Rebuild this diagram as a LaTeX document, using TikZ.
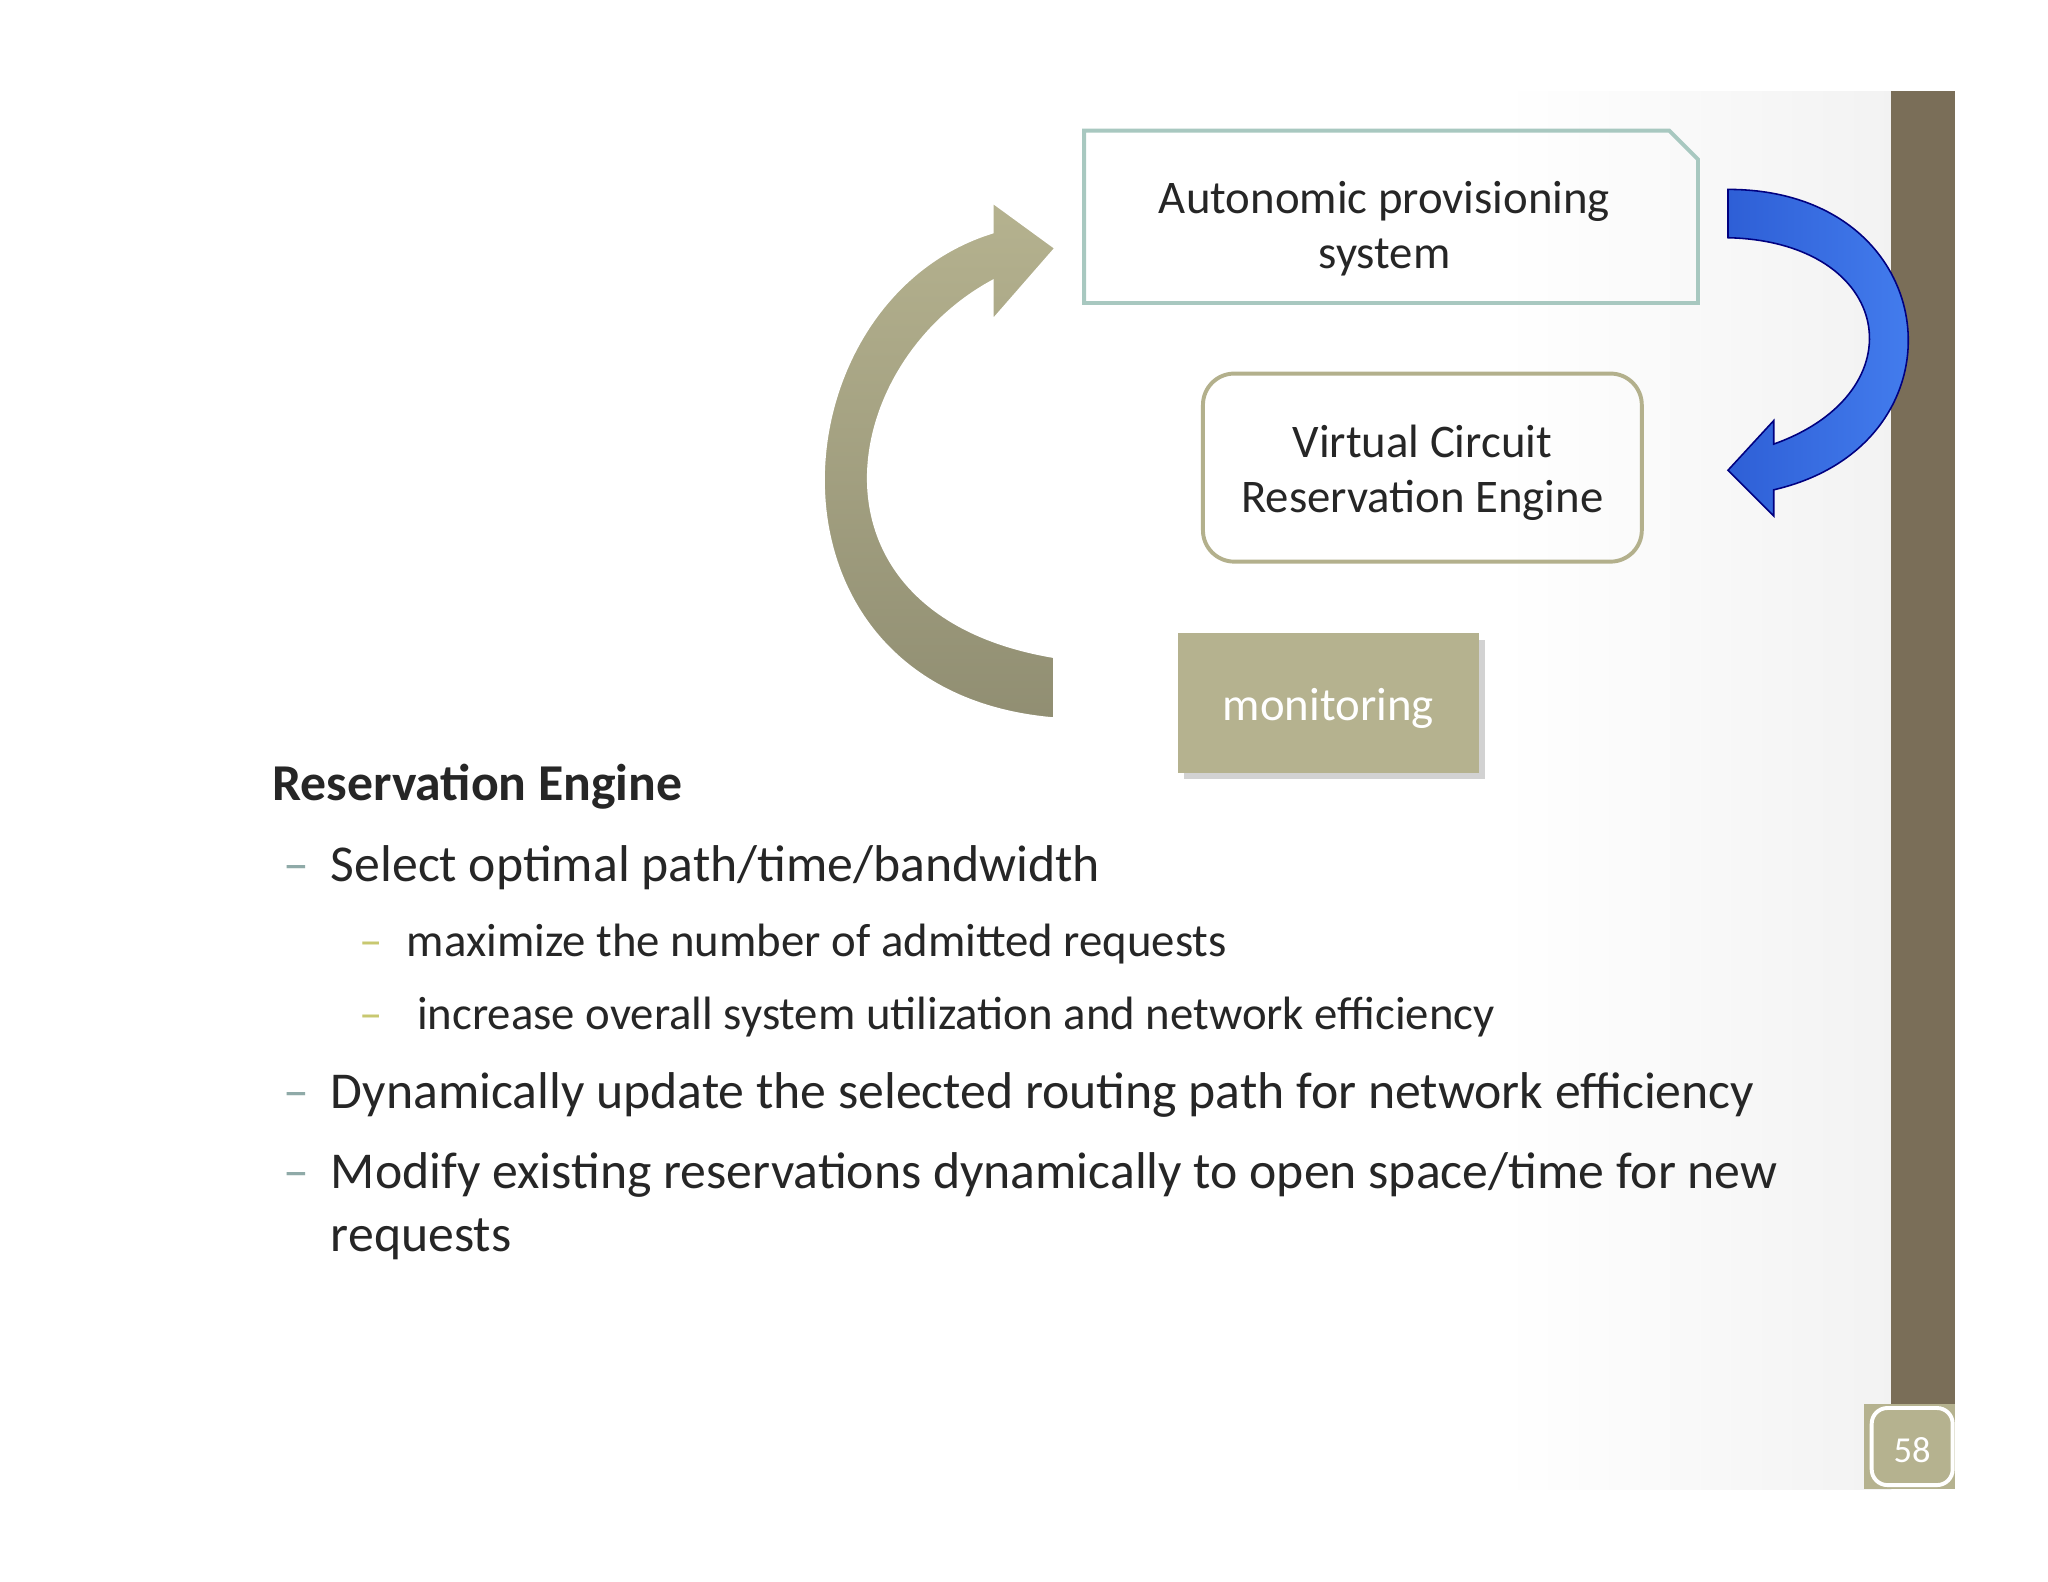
\documentclass[tikz,border=0pt]{standalone}
\usepackage{fontspec}
\setmainfont{Carlito}
\usetikzlibrary{shadows}
\definecolor{tanf}{HTML}{B5B28F}
\definecolor{tanb}{HTML}{B3B08C}
\definecolor{brown}{HTML}{7A6E58}
\definecolor{teal}{HTML}{A8C8C0}
\definecolor{txt}{HTML}{262626}
\definecolor{dash1}{HTML}{8FAAA8}
\definecolor{dash2}{HTML}{C8C870}
\definecolor{blueA}{HTML}{2E5FD6}
\definecolor{blueB}{HTML}{4A86F5}
\tikzset{x=0.5pt,y=-0.5pt,
 lvl1/.style={anchor=base west,font=\fontsize{19.8}{23}\selectfont,text=txt,inner sep=0},
 lvl2/.style={anchor=base west,font=\fontsize{17.9}{20}\selectfont,text=txt,inner sep=0},
 boxtxt/.style={align=center,font=\fontsize{17.9}{21}\selectfont,text=txt}}
\begin{document}
\begin{tikzpicture}
\useasboundingbox (0,0) rectangle (1568,1211);
\fill[white] (0,0) rectangle (1568,1211);
\shade[left color=white,right color=gray!10] (1150,70) rectangle (1448,1140);
\fill[brown] (1448,70) rectangle (1497,1075);
\fill[tanf] (1427,1075) rectangle (1497,1140);
\draw[white,line width=1.5pt,rounded corners=6pt] (1433,1078) rectangle (1495,1137);
\node[white,font=\fontsize{14}{16}\selectfont] (pg) at (1464,1110) {58};
% boxes
\draw[teal,line width=1.5pt] (830,100) -- (1278,100) -- (1300,122) -- (1300,232) -- (830,232) -- cycle;
\node[boxtxt] (aps) at (1060,175) {Autonomic provisioning\\system};
\draw[tanb,line width=1.5pt,rounded corners=12pt] (921,286) rectangle (1257,430);
\node[boxtxt] (vcr) at (1089,362) {Virtual Circuit\\Reservation Engine};
\fill[tanf,drop shadow={opacity=0.35}] (902,485) rectangle (1132,592);
\node[white,font=\fontsize{17.9}{20}\selectfont] (mon) at (1017,542) {monitoring};
% tan arrow
\shade[top color=tanf,bottom color=tanf!80!black,draw=white,line width=0.8pt]
 (807,550) .. controls (570,530) and (590,230) .. (760,178) -- (760,155) -- (808,190) -- (760,245) -- (760,215)
 .. controls (640,280) and (610,470) .. (807,503) -- cycle;
% blue arrow
\shade[left color=blueA,right color=blueB,draw=blue!50!black,line width=0.6pt]
 (1323,145) .. controls (1490,145) and (1510,340) .. (1358,375) -- (1358,395) -- (1323,360) -- (1358,322) -- (1358,340)
 .. controls (1470,300) and (1450,185) .. (1323,182) -- cycle;
% text
\node[anchor=base west,inner sep=0,font=\bfseries\fontsize{19.8}{23}\selectfont,text=txt] (h) at (208,613) {Reservation Engine};
\node[lvl1,text=dash1] (d1) at (217,675) {–};
\node[lvl1] (t1) at (253,675) {Select optimal path/time/bandwidth};
\node[lvl2,text=dash2] (d2) at (275,732) {–};
\node[lvl2] (t2) at (311,732) {maximize the number of admitted requests};
\node[lvl2,text=dash2] (d3) at (275,788) {–};
\node[lvl2] (t3) at (319,788) {increase overall system utilization and network efficiency};
\node[lvl1,text=dash1] (d4) at (217,849) {–};
\node[lvl1] (t4) at (253,849) {Dynamically update the selected routing path for network efficiency};
\node[lvl1,text=dash1] (d5) at (217,910) {–};
\node[lvl1] (t5) at (253,910) {Modify existing reservations dynamically to open space/time for new};
\node[lvl1] (t6) at (253,958) {requests};
\end{tikzpicture}
\end{document}
